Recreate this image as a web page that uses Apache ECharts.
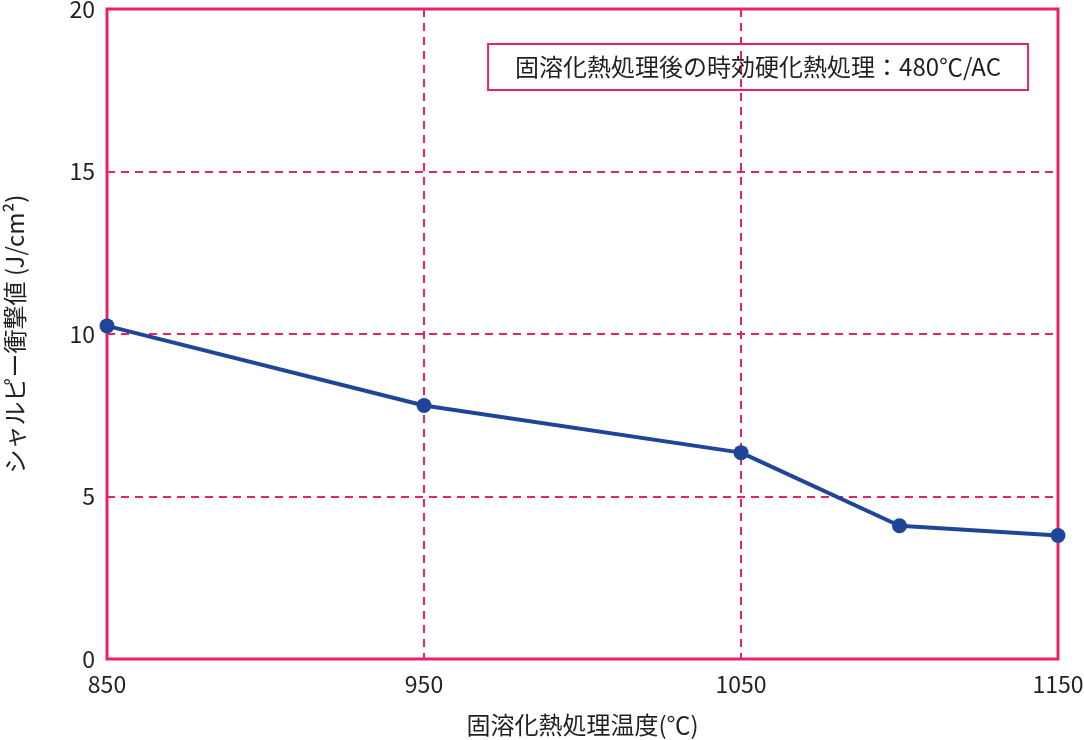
<!DOCTYPE html>
<html>
<head>
<meta charset="utf-8">
<script src="https://cdn.jsdelivr.net/npm/echarts@6/dist/echarts.min.js"></script>
<style>
html, body { margin: 0; padding: 0; background: #fff; }
#main { width: 1084px; height: 740px; }
</style>
</head>
<body>
<div id="main"></div>
<script>
// 固溶化熱処理温度 vs シャルピー衝撃値
const temps = [850, 950, 1050, 1100, 1150];
const charpy = [10.25, 7.8, 6.35, 4.1, 3.8];
const xTicks = [850, 950, 1050, 1150];
const yTicks = [0, 5, 10, 15, 20];

const pink = '#e8216b';
const blue = '#1f4599';
const textColor = '#231f20';
const font = '"Noto Sans CJK JP", "Noto Sans", sans-serif';

const chart = echarts.init(document.getElementById('main'));
chart.setOption({
    backgroundColor: '#fff',
    animation: false,
    title: {
        text: '固溶化熱処理後の時効硬化熱処理：480℃/AC',
        right: 56,
        top: 44,
        padding: [11, 27, 11, 27],
        borderColor: pink,
        borderWidth: 2,
        textStyle: {
            fontFamily: font,
            fontSize: 24,
            fontWeight: 'normal',
            color: textColor
        }
    },
    grid: {
        left: 107,
        right: 26,
        top: 9,
        bottom: 81,
        outerBoundsMode: 'none',
        containLabel: false,
        show: true,
        borderColor: pink,
        borderWidth: 3,
        backgroundColor: 'transparent'
    },
    xAxis: {
        type: 'value',
        min: 850,
        max: 1150,
        interval: 100,
        name: '固溶化熱処理温度(℃)',
        nameLocation: 'middle',
        nameGap: 54,
        nameTextStyle: { fontFamily: font, fontSize: 24, color: textColor },
        axisLine: { show: false },
        axisTick: { show: false },
        axisLabel: {
            fontFamily: font,
            fontSize: 23,
            color: textColor,
            margin: 14,
            customValues: xTicks,
            formatter: function (v) { return String(v); }
        },
        splitLine: {
            show: true,
            lineStyle: { color: pink, width: 2, type: [8, 6] }
        }
    },
    yAxis: {
        type: 'value',
        min: 0,
        max: 20,
        interval: 5,
        name: 'シャルピー衝撃値 (J/cm²)',
        nameLocation: 'middle',
        nameGap: 80,
        nameTextStyle: { fontFamily: font, fontSize: 24, color: textColor },
        axisLine: { show: false },
        axisTick: { show: false },
        axisLabel: {
            fontFamily: font,
            fontSize: 23,
            color: textColor,
            margin: 12,
            customValues: yTicks
        },
        splitLine: {
            show: true,
            lineStyle: { color: pink, width: 2, type: [8, 6] }
        }
    },
    series: [
        {
            type: 'line',
            data: temps.map(function (t, i) { return [t, charpy[i]]; }),
            symbol: 'circle',
            symbolSize: 15,
            clip: false,
            lineStyle: { color: blue, width: 4 },
            itemStyle: { color: blue },
            z: 5
        }
    ]
});
</script>
</body>
</html>
